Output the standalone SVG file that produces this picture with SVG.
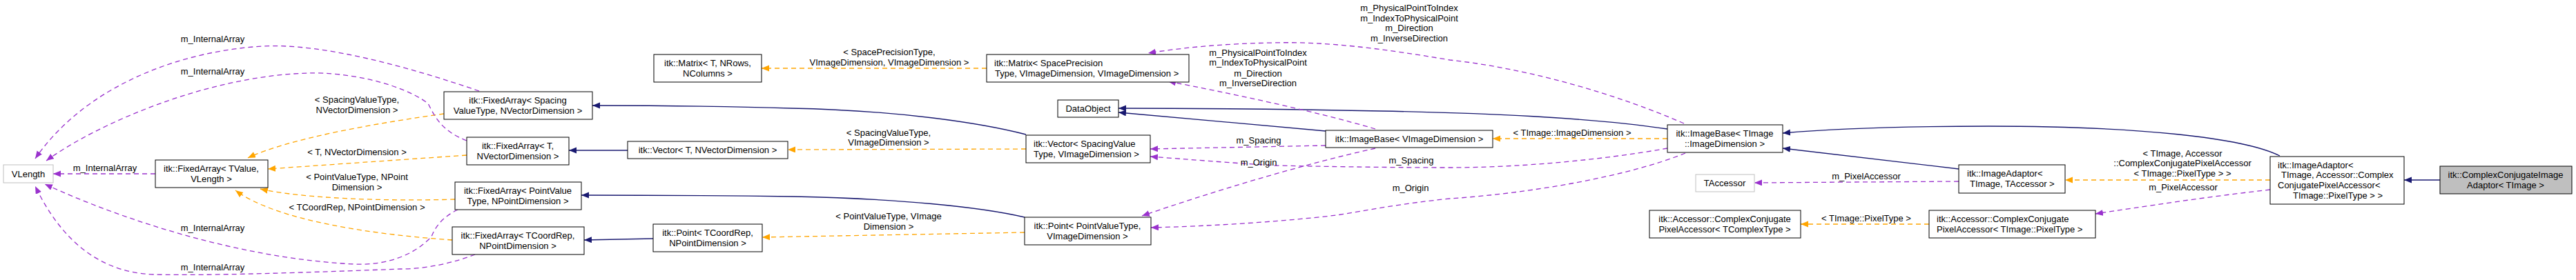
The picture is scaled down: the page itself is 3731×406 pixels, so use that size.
<svg xmlns="http://www.w3.org/2000/svg" width="3731" height="406" viewBox="0 0 3731 406">
<style>
text{font-family:"Liberation Sans",Arial,sans-serif;font-size:13px;fill:#000}
.n rect{fill:#fff;stroke:#000;stroke-width:1}
.g rect{stroke:#bfbfbf}
.c{text-anchor:middle}
.e path{fill:none;stroke-width:1.3}
.inh{stroke:#191970}
.tpl{stroke:#ffa500;stroke-dasharray:7,5}
.use{stroke:#9a32cd;stroke-dasharray:7,5}
</style>
<defs>
<marker id="an" markerUnits="userSpaceOnUse" markerWidth="12" markerHeight="10" refX="11" refY="4.5" orient="auto"><path d="M0,0L11,4.5L0,9z" fill="#191970"/></marker>
<marker id="ao" markerUnits="userSpaceOnUse" markerWidth="12" markerHeight="10" refX="11" refY="4.5" orient="auto"><path d="M0,0L11,4.5L0,9z" fill="#ffa500"/></marker>
<marker id="ap" markerUnits="userSpaceOnUse" markerWidth="12" markerHeight="10" refX="11" refY="4.5" orient="auto"><path d="M0,0L11,4.5L0,9z" fill="#9a32cd"/></marker>
</defs>
<rect width="3731" height="406" fill="#fff"/>
<g id="connectors" class="e">
<path class="inh" marker-end="url(#an)" d="M909,218L824,218"/>
<path class="inh" marker-end="url(#an)" d="M946,346L846,348"/>
<path class="inh" marker-end="url(#an)" d="M1486,195C1420,178 1300,160 1146,157C1050,154 950,153 858,153"/>
<path class="inh" marker-end="url(#an)" d="M1484,315C1420,300 1300,288 1150,285C1000,283 920,283 842,283"/>
<path class="inh" marker-end="url(#an)" d="M1920,190L1620,163"/>
<path class="inh" marker-end="url(#an)" d="M2415,187C2300,170 2150,164 2000,161C1850,158 1700,157 1620,157"/>
<path class="inh" marker-end="url(#an)" d="M2837,245L2582,215"/>
<path class="inh" marker-end="url(#an)" d="M3302,226C3250,200 3100,183 2880,183C2750,183 2650,187 2582,193"/>
<path class="inh" marker-end="url(#an)" d="M3534,261L3482,261"/>
<path class="tpl" marker-end="url(#ao)" d="M643,165C550,178 420,200 359,229"/>
<path class="tpl" marker-end="url(#ao)" d="M676,225L388,245"/>
<path class="tpl" marker-end="url(#ao)" d="M659,289C560,292 440,288 377,274"/>
<path class="tpl" marker-end="url(#ao)" d="M655,348C540,340 400,320 341,276"/>
<path class="tpl" marker-end="url(#ao)" d="M1429,99L1103,99"/>
<path class="tpl" marker-end="url(#ao)" d="M1486,216L1141,217"/>
<path class="tpl" marker-end="url(#ao)" d="M1484,337L1104,344"/>
<path class="tpl" marker-end="url(#ao)" d="M2415,201L2162,201"/>
<path class="tpl" marker-end="url(#ao)" d="M2794,325L2608,325"/>
<path class="tpl" marker-end="url(#ao)" d="M3288,261L2991,261"/>
<path class="use" marker-end="url(#ap)" d="M225,252L77,252"/>
<path class="use" marker-end="url(#ap)" d="M694,132C600,100 470,62 380,67C250,75 120,130 51,230"/>
<path class="use" marker-end="url(#ap)" d="M676,204C640,190 630,170 620,150C580,120 500,104 446,106C300,110 140,180 67,233"/>
<path class="use" marker-end="url(#ap)" d="M663,304C640,315 630,330 625,343C600,370 560,385 513,383C350,375 180,320 65,267"/>
<path class="use" marker-end="url(#ap)" d="M688,369C660,380 620,390 580,390C450,395 300,400 223,398C130,395 80,330 51,270"/>
<path class="use" marker-end="url(#ap)" d="M1992,187C1900,160 1780,135 1692,118"/>
<path class="use" marker-end="url(#ap)" d="M2439,179C2350,140 2220,100 2100,87C2000,70 1920,60 1846,62C1780,63 1720,68 1663,77"/>
<path class="use" marker-end="url(#ap)" d="M1920,211L1666,216"/>
<path class="use" marker-end="url(#ap)" d="M1992,215C1880,240 1750,280 1654,313"/>
<path class="use" marker-end="url(#ap)" d="M2415,215C2320,232 2200,243 2100,243C2000,243 1900,241 1846,240C1780,236 1720,231 1666,227"/>
<path class="use" marker-end="url(#ap)" d="M2441,222C2360,255 2220,280 2100,288C2030,295 1980,305 1936,312C1850,322 1750,328 1667,330"/>
<path class="use" marker-end="url(#ap)" d="M2837,263L2541,265"/>
<path class="use" marker-end="url(#ap)" d="M3288,275C3200,285 3100,300 3035,310"/>
</g>
<g id="labels" class="c">
<text x="517" y="149">&lt; SpacingValueType,</text><text x="517" y="164">NVectorDimension &gt;</text>
<text x="517" y="225">&lt; T, NVectorDimension &gt;</text>
<text x="517" y="261">&lt; PointValueType, NPoint</text><text x="517" y="276">Dimension &gt;</text>
<text x="517" y="305">&lt; TCoordRep, NPointDimension &gt;</text>
<text x="1288" y="80">&lt; SpacePrecisionType,</text><text x="1288" y="95">VImageDimension, VImageDimension &gt;</text>
<text x="1287" y="197">&lt; SpacingValueType,</text><text x="1287" y="211">VImageDimension &gt;</text>
<text x="1287" y="318">&lt; PointValueType, VImage</text><text x="1287" y="333">Dimension &gt;</text>
<text x="2277" y="197">&lt; TImage::ImageDimension &gt;</text>
<text x="2703" y="321">&lt; TImage::PixelType &gt;</text>
<text x="3161" y="227">&lt; TImage, Accessor</text><text x="3161" y="241">::ComplexConjugatePixelAccessor</text><text x="3161" y="256">&lt; TImage::PixelType &gt; &gt;</text>
<text x="152" y="248">m_InternalArray</text>
<text x="308" y="61">m_InternalArray</text>
<text x="308" y="108">m_InternalArray</text>
<text x="308" y="335">m_InternalArray</text>
<text x="308" y="392">m_InternalArray</text>
<text x="1822" y="81">m_PhysicalPointToIndex</text><text x="1822" y="95">m_IndexToPhysicalPoint</text><text x="1822" y="111">m_Direction</text><text x="1822" y="125">m_InverseDirection</text>
<text x="2041" y="16">m_PhysicalPointToIndex</text><text x="2041" y="31">m_IndexToPhysicalPoint</text><text x="2041" y="45">m_Direction</text><text x="2041" y="60">m_InverseDirection</text>
<text x="1823" y="208">m_Spacing</text>
<text x="1823" y="240">m_Origin</text>
<text x="2044" y="237">m_Spacing</text>
<text x="2043" y="277">m_Origin</text>
<text x="2703" y="260">m_PixelAccessor</text>
<text x="3162" y="276">m_PixelAccessor</text>
</g>
<g id="VLength" class="n g"><rect x="5" y="239" width="72" height="26"/><text class="c" x="41" y="256.5">VLength</text></g>
<g id="FA_TValue" class="n"><rect x="225" y="232" width="163" height="40"/><text class="c" x="306" y="248.5">itk::FixedArray&lt; TValue,</text><text class="c" x="306" y="263.5">VLength &gt;</text></g>
<g id="FA_Spacing" class="n"><rect x="643" y="133" width="215" height="40"/><text class="c" x="750" y="149.5">itk::FixedArray&lt; Spacing</text><text class="c" x="750" y="164.5">ValueType, NVectorDimension &gt;</text></g>
<g id="FA_T" class="n"><rect x="676" y="199" width="148" height="40"/><text class="c" x="750" y="215.5">itk::FixedArray&lt; T,</text><text class="c" x="750" y="230.5">NVectorDimension &gt;</text></g>
<g id="FA_PointValue" class="n"><rect x="659" y="264" width="183" height="40"/><text class="c" x="750" y="280.5">itk::FixedArray&lt; PointValue</text><text class="c" x="750" y="295.5">Type, NPointDimension &gt;</text></g>
<g id="FA_TCoordRep" class="n"><rect x="655" y="329" width="191" height="40"/><text class="c" x="750" y="345.5">itk::FixedArray&lt; TCoordRep,</text><text class="c" x="750" y="360.5">NPointDimension &gt;</text></g>
<g id="Matrix_T" class="n"><rect x="947" y="79" width="156" height="40"/><text class="c" x="1025" y="95.5">itk::Matrix&lt; T, NRows,</text><text class="c" x="1025" y="110.5">NColumns &gt;</text></g>
<g id="Vector_T" class="n"><rect x="909" y="205" width="232" height="25"/><text class="c" x="1025" y="222">itk::Vector&lt; T, NVectorDimension &gt;</text></g>
<g id="Point_TCoordRep" class="n"><rect x="946" y="325" width="158" height="40"/><text class="c" x="1025" y="341.5">itk::Point&lt; TCoordRep,</text><text class="c" x="1025" y="356.5">NPointDimension &gt;</text></g>
<g id="Matrix_SP" class="n"><rect x="1429" y="79" width="293" height="40"/><text x="1440" y="95.5">itk::Matrix&lt; SpacePrecision</text><text x="1441" y="110.5">Type, VImageDimension, VImageDimension &gt;</text></g>
<g id="DataObject" class="n"><rect x="1532" y="145" width="88" height="25"/><text class="c" x="1576" y="162">DataObject</text></g>
<g id="Vector_SV" class="n"><rect x="1486" y="196" width="180" height="40"/><text x="1497" y="212.5">itk::Vector&lt; SpacingValue</text><text x="1497" y="227.5">Type, VImageDimension &gt;</text></g>
<g id="ImageBase_V" class="n"><rect x="1920" y="189" width="242" height="25"/><text class="c" x="2041" y="206">itk::ImageBase&lt; VImageDimension &gt;</text></g>
<g id="Point_PV" class="n"><rect x="1484" y="315" width="183" height="40"/><text class="c" x="1575" y="331.5">itk::Point&lt; PointValueType,</text><text class="c" x="1575" y="346.5">VImageDimension &gt;</text></g>
<g id="ImageBase_T" class="n"><rect x="2415" y="181" width="167" height="40"/><text class="c" x="2498" y="197.5">itk::ImageBase&lt; TImage</text><text class="c" x="2498" y="212.5">::ImageDimension &gt;</text></g>
<g id="TAccessor" class="n g"><rect x="2456" y="253" width="85" height="25"/><text class="c" x="2498" y="270">TAccessor</text></g>
<g id="CCPA_TC" class="n"><rect x="2389" y="305" width="219" height="40"/><text class="c" x="2498" y="321.5">itk::Accessor::ComplexConjugate</text><text class="c" x="2498" y="336.5">PixelAccessor&lt; TComplexType &gt;</text></g>
<g id="ImageAdaptor_TA" class="n"><rect x="2837" y="239" width="154" height="41"/><text x="2849" y="256">itk::ImageAdaptor&lt;</text><text x="2853" y="271">TImage, TAccessor &gt;</text></g>
<g id="CCPA_TI" class="n"><rect x="2794" y="305" width="241" height="40"/><text x="2805" y="321.5">itk::Accessor::ComplexConjugate</text><text x="2805" y="336.5">PixelAccessor&lt; TImage::PixelType &gt;</text></g>
<g id="ImageAdaptor_C" class="n"><rect x="3288" y="227" width="194" height="69"/><text x="3299" y="243.5">itk::ImageAdaptor&lt;</text><text x="3304" y="257.5">TImage, Accessor::Complex</text><text x="3299" y="272.5">ConjugatePixelAccessor&lt;</text><text x="3321" y="287.5">TImage::PixelType &gt; &gt;</text></g>
<g id="ComplexConjugateImageAdaptor" class="n"><rect x="3534" y="241" width="191" height="40" style="fill:#bfbfbf"/><text class="c" x="3629" y="257.5">itk::ComplexConjugateImage</text><text class="c" x="3629" y="272.5">Adaptor&lt; TImage &gt;</text></g>
</svg>
